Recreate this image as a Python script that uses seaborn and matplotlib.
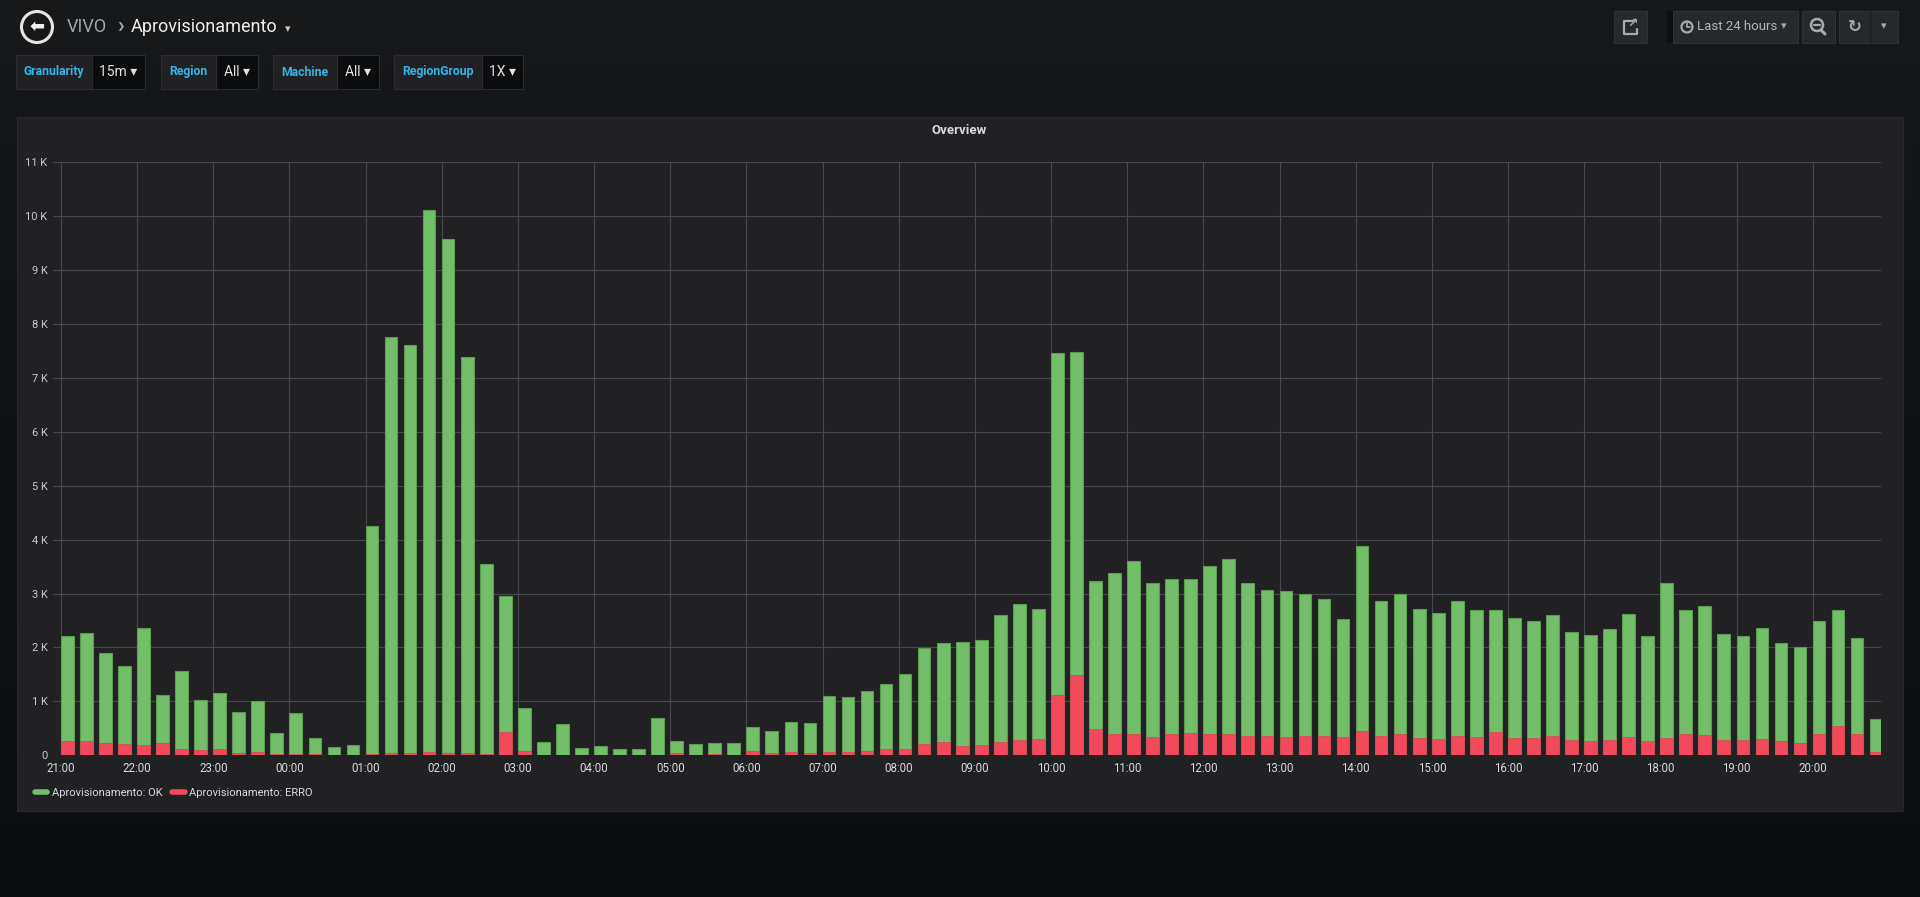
import numpy as np
import pandas as pd
import matplotlib
matplotlib.use("Agg")
import matplotlib.pyplot as plt
import seaborn as sns
from matplotlib.patches import Rectangle, Circle
from matplotlib.lines import Line2D
from matplotlib.colors import to_rgb

W, H = 1920, 897

# 15 minute slots over the last 24 hours
slots = pd.date_range("2019-01-01 21:00", periods=96, freq="15min")

ok = [2216, 2265, 1889, 1648, 2370, 1111, 1568, 1025,
      1160, 802, 1000, 420, 784, 327, 148, 191,
      4250, 7760, 7610, 10117, 9574, 7383, 3556, 2960,
      870, 241, 580, 130, 173, 111, 117, 691,
      265, 204, 228, 222, 531, 451, 617, 605,
      1093, 1074, 1198, 1315, 1512, 1994, 2086, 2105,
      2136, 2608, 2802, 2710, 7463, 7480, 3228, 3377,
      3611, 3204, 3265, 3272, 3512, 3648, 3198, 3062,
      3049, 2988, 2901, 2537, 3889, 2864, 3000, 2710,
      2642, 2870, 2704, 2698, 2543, 2500, 2611, 2278,
      2235, 2346, 2617, 2210, 3198, 2698, 2778, 2241,
      2222, 2364, 2074, 2006, 2488, 2698, 2185, 667]

erro = [265, 265, 228, 216, 191, 235, 123, 105,
        117, 49, 56, 31, 31, 19, 6, 6,
        25, 49, 43, 62, 49, 43, 25, 435,
        77, 3, 12, 2, 2, 2, 2, 6,
        37, 6, 25, 6, 80, 37, 62, 49,
        62, 68, 80, 111, 111, 216, 247, 179,
        182, 238, 284, 296, 1111, 1494, 481, 401,
        389, 333, 389, 414, 389, 395, 352, 352,
        340, 352, 364, 333, 451, 352, 389, 321,
        302, 352, 333, 432, 327, 327, 358, 290,
        259, 290, 340, 272, 315, 389, 370, 278,
        278, 296, 259, 228, 389, 543, 389, 68]

series_names = ["Aprovisionamento: OK", "Aprovisionamento: ERRO"]
hour_labels = ["21:00", "22:00", "23:00", "00:00", "01:00", "02:00", "03:00", "04:00",
               "05:00", "06:00", "07:00", "08:00", "09:00", "10:00", "11:00", "12:00",
               "13:00", "14:00", "15:00", "16:00", "17:00", "18:00", "19:00", "20:00"]
y_ticks = [0, 1000, 2000, 3000, 4000, 5000, 6000, 7000, 8000, 9000, 10000, 11000]
y_labels = ["0", "1 K", "2 K", "3 K", "4 K", "5 K", "6 K", "7 K", "8 K", "9 K", "10 K", "11 K"]

var_labels = ["Granularity", "Region", "Machine", "RegionGroup"]
var_values = ["15m", "All", "All", "1X"]

GREEN = "#73bf69"
RED = "#f2495c"
TEXT = "#d8d9da"
PANEL = "#212124"

sns.set_theme(style="dark")
plt.rcParams["font.family"] = ["Roboto", "DejaVu Sans"]

fig = plt.figure(figsize=(W / 100, H / 100), dpi=100)

# page layer in pixel coordinates
bg = fig.add_axes([0, 0, 1, 1], zorder=-1)
bg.set_xlim(0, W)
bg.set_ylim(H, 0)
bg.axis("off")
top, bot = np.array(to_rgb("#18191b")), np.array(to_rgb("#0b0c0e"))
grad = np.linspace(0, 1, 256)[:, None, None] * (bot - top) + top
bg.imshow(grad, aspect="auto", extent=[0, W, H, 0], zorder=0)
bg.add_patch(Rectangle((17, 117), 1886, 694, fc=PANEL, ec="#292a2d", lw=0.8, zorder=1))

# breadcrumb
bg.add_patch(Circle((37, 27), 15.5, fill=False, ec="#e6e6e6", lw=2.2, zorder=2))
bg.text(37, 27, "⬅", ha="center", va="center", fontsize=13, color="#f0f0f0",
        family=["DejaVu Sans"], weight="bold", zorder=3)
bg.text(67, 27, "VIVO", ha="left", va="center", fontsize=13, color="#a3a4a6", zorder=3)
bg.text(117, 26, "›", ha="left", va="center", fontsize=16, color="#a3a4a6",
        weight="bold", zorder=3)
bg.text(131, 27, "Aprovisionamento", ha="left", va="center", fontsize=13, color="#eeeeee", zorder=3)
bg.text(285, 29, "▾", ha="left", va="center", fontsize=8, color="#c8c8c8", zorder=3)

# template variables
boxes = [(16, 92, 145), (161, 216, 258), (273, 337, 379), (394, 482, 523)]
for (x0, x1, x2), lab, val in zip(boxes, var_labels, var_values):
    bg.add_patch(Rectangle((x0, 55), x1 - x0, 34, fc="#212124", ec="#2b2c2f", lw=0.8, zorder=2))
    bg.add_patch(Rectangle((x1, 55), x2 - x1, 34, fc="#0b0c0e", ec="#2b2c2f", lw=0.8, zorder=2))
    bg.text((x0 + x1) / 2, 72, lab, ha="center", va="center", fontsize=8.8,
            weight="bold", color="#33b5e5", zorder=3)
    bg.text((x1 + x2) / 2, 72, val + " ▾", ha="center", va="center", fontsize=10,
            color="#e3e3e3", zorder=3)

# top right buttons
btn = "#27282b"
for x0, x1 in [(1614, 1647), (1673, 1798), (1802, 1835), (1839, 1898)]:
    bg.add_patch(Rectangle((x0, 11), x1 - x0, 32, fc=btn, ec="#303134", lw=0.8, zorder=2))
bg.add_patch(Rectangle((1667, 11), 6, 32, fc="#0d0e10", lw=0, zorder=2))
bg.plot([1870, 1870], [11, 43], color="#1c1d1f", lw=1, zorder=3)
icon = "#a8a9ab"
bg.plot([1633, 1624, 1624, 1637, 1637], [21, 21, 34, 34, 29], color=icon, lw=1.6, zorder=3)
bg.text(1633, 23, "↗", ha="center", va="center", fontsize=9, color=icon, weight="bold",
        family=["DejaVu Sans"], zorder=3)
bg.add_patch(Circle((1687, 27), 5.5, fill=False, ec=icon, lw=1.6, zorder=3))
bg.plot([1687, 1687, 1690], [23.5, 27, 27], color=icon, lw=1.2, zorder=3)
bg.text(1697, 27, "Last 24 hours", ha="left", va="center", fontsize=9.5,
        color="#b4b5b7", zorder=3)
bg.text(1784, 26, "▾", ha="center", va="center", fontsize=8, color=icon, zorder=3)
bg.add_patch(Circle((1817, 25), 6, fill=False, ec=icon, lw=1.8, zorder=3))
bg.plot([1814, 1820], [25, 25], color=icon, lw=1.6, zorder=3)
bg.plot([1821, 1825], [30, 34], color=icon, lw=2.2, zorder=3)
bg.text(1855, 27, "↻", ha="center", va="center", fontsize=12, color=icon, weight="bold",
        family=["DejaVu Sans"], zorder=3)
bg.text(1884, 26, "▾", ha="center", va="center", fontsize=8, color=icon, zorder=3)

# panel title
bg.text(959, 131, "Overview", ha="center", va="center", fontsize=9.5, weight="bold",
        color=TEXT, zorder=3)

# chart
ax = fig.add_axes([53 / W, 1 - 755.3 / H, (1881 - 53) / W, (755.3 - 162.3) / H])
ax.set_facecolor("none")

hours = (slots - slots[0]) / pd.Timedelta(hours=1)
df = pd.DataFrame({"t": np.asarray(hours) + 5 / 60, "ok": ok, "erro": erro})

sns.barplot(data=df, x="t", y="ok", native_scale=True, width=0.667, color=GREEN,
            saturation=1, errorbar=None, edgecolor="#5a9a51", linewidth=0.8, ax=ax, zorder=2)
sns.barplot(data=df, x="t", y="erro", native_scale=True, width=0.667, color=RED,
            saturation=1, errorbar=None, edgecolor="#d9414f", linewidth=0.5, ax=ax, zorder=3)

ax.set_xlim(-0.105, 23.897)
ax.set_ylim(0, 11000)
ax.set_xticks(range(len(hour_labels)))
ax.set_xticklabels(hour_labels)
ax.set_yticks(y_ticks)
ax.set_yticklabels(y_labels)
ax.set_xlabel("")
ax.set_ylabel("")
ax.grid(True, color="#47484b", lw=0.8)
ax.set_axisbelow(True)
for s in ax.spines.values():
    s.set_visible(False)
ax.tick_params(axis="x", length=0, pad=5, labelsize=8.3, labelcolor=TEXT)
ax.tick_params(axis="y", length=0, pad=4, labelsize=8, labelcolor="#c8c9ca")

handles = [Line2D([0], [0], color=GREEN, lw=4), Line2D([0], [0], color=RED, lw=4)]
fig.legend(handles=handles, labels=series_names, loc="center left",
           bbox_to_anchor=(35 / W, 1 - 793 / H), frameon=False, ncol=2, fontsize=8,
           handlelength=1.1, handletextpad=0.4, columnspacing=0.9, borderpad=0,
           borderaxespad=0, labelcolor=TEXT)

fig.savefig("out.png", dpi=100, facecolor="#161719")
